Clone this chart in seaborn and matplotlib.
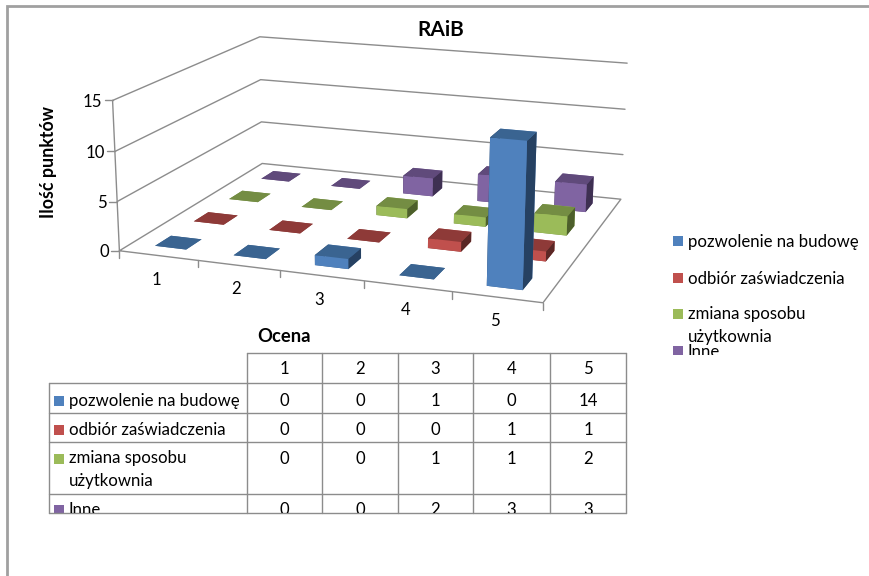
import numpy as np
import pandas as pd
import seaborn as sns
import matplotlib
matplotlib.use("Agg")
import matplotlib.pyplot as plt
from matplotlib.patches import Rectangle
from matplotlib.transforms import Bbox, TransformedBbox
from mpl_toolkits.mplot3d import Axes3D, proj3d

categories = ["1", "2", "3", "4", "5"]
series_names = ["pozwolenie na budowę", "odbiór zaświadczenia", "zmiana sposobu\nużytkownia", "Inne"]
pozwolenie = [0, 0, 1, 0, 14]
odbior = [0, 0, 0, 1, 1]
zmiana = [0, 0, 1, 1, 2]
inne = [0, 0, 2, 3, 3]
value_ticks = [0, 5, 10, 15]

front_colors = ["#4F81BD", "#C0504D", "#9BBB59", "#8064A2"]
top_colors = ["#3A6491", "#8E3A38", "#748D43", "#604A7B"]
side_colors = ["#264162", "#5A2725", "#4D5F2B", "#3E3052"]
line_color = "#8C8C8C"
frame_color = "#A0A0A0"

W, H = 870, 576

sns.set_theme(style="white")
plt.rcParams["font.family"] = ["Lato", "DejaVu Sans"]

table = pd.DataFrame([pozwolenie, odbior, zmiana, inne], index=series_names, columns=categories)

# Camera calibration: box corners in axis units -> figure pixels.
camera_world = np.array([
    (0, 0, 0), (0, 0, 5), (0, 0, 10), (0, 0, 15),
    (0, 4, 0), (0, 4, 5), (0, 4, 10), (0, 4, 15),
    (5, 4, 0), (5, 4, 5), (5, 4, 10), (5, 4, 15),
    (5, 0, 0),
], float)
camera_pixels = np.array([
    (120, 250), (117, 202), (114, 152), (113, 100),
    (262, 164), (261, 122), (261, 79), (260, 37),
    (621, 199), (623, 154), (625, 110), (627, 63),
    (543, 303),
], float)


def fit_camera(world, pixels):
    rows = []
    for (x, y, z), (u, v) in zip(world, pixels):
        rows.append([x, y, z, 1, 0, 0, 0, 0, -u * x, -u * y, -u * z, -u])
        rows.append([0, 0, 0, 0, x, y, z, 1, -v * x, -v * y, -v * z, -v])
    p = np.linalg.svd(np.array(rows))[2][-1].reshape(3, 4)
    p /= p[2] @ np.array([0, 0, 0, 1.0])
    # The third row keeps a depth value that grows away from the viewer.
    return np.vstack([p[0], p[1], p[2] - np.array([0, 0, 0, 0.5]), p[2]])


class BoxAxes3D(Axes3D):
    """3D axes whose projection comes from a fixed camera matrix, in pixels."""
    camera = fit_camera(camera_world, camera_pixels)

    def get_proj(self):
        return self.camera

    def apply_aspect(self, position=None):
        pass


def to_pixels(x, y, z):
    u, v, _ = proj3d.proj_transform(x, y, z, BoxAxes3D.camera)
    return float(u), float(v)


def pixel_axes():
    flat = fig.add_axes([0, 0, 1, 1], facecolor="none")
    flat.set_xlim(0, W)
    flat.set_ylim(H, 0)
    flat.axis("off")
    return flat


fig = plt.figure(figsize=(W / 100, H / 100), dpi=100, facecolor="white")

# Floor outline and wall gridlines sit under the bars
n_cat, n_ser = len(categories), len(series_names)
under = pixel_axes()
LINE = dict(color=line_color, lw=1.0)


def box_line(corners):
    px = [to_pixels(*c) for c in corners]
    under.plot([p[0] for p in px], [p[1] for p in px], **LINE)


box_line([(0, 0, 0), (n_cat, 0, 0), (n_cat, n_ser, 0), (0, n_ser, 0), (0, 0, 0)])
for v in value_ticks[1:]:
    box_line([(0, 0, v), (0, n_ser, v), (n_cat, n_ser, v)])
box_line([(0, 0, 0), (0, 0, max(value_ticks))])

ax = fig.add_axes(BoxAxes3D(fig, [0, 0, 1, 1], computed_zorder=False))
ax.set_axis_off()
ax.patch.set_visible(False)
ax.viewLim.intervalx = (0, W)
ax.viewLim.intervaly = (H, 0)

# Bars, farthest series first and left to right within a series
band, gap = 0.4, 0.3
z_order = 2
for s in reversed(range(n_ser)):
    for c in range(n_cat):
        face = [top_colors[s], top_colors[s], front_colors[s], front_colors[s], side_colors[s], side_colors[s]]
        ax.bar3d(c + gap, s + gap, 0, band, band, table.iloc[s, c], color=face,
                 shade=False, edgecolor="none", linewidth=0, zorder=z_order)
        z_order += 1

# Flat overlay in pixel coordinates for ticks, labels, data table and legend
ov = pixel_axes()

TXT = dict(color="black", fontsize=12.1)

# Frame of the chart area
ov.plot([7, 7, W], [H, 5.5, 5.5], color=frame_color, lw=2.0, solid_joinstyle="miter")

for v in value_ticks:
    u0, v0 = to_pixels(0, 0, v)
    ov.plot([u0 - 8, u0], [v0, v0], **LINE)
    ov.text(u0 - 10, v0 + 1.5, str(v), ha="right", va="center", **TXT)

for i in range(n_cat + 1):
    u0, v0 = to_pixels(i, 0, 0)
    ov.plot([u0, u0], [v0, v0 + 7], **LINE)
for i, label in enumerate(categories):
    u0, v0 = to_pixels(i + 0.5, 0, 0)
    ov.text(u0 - 2, v0 + 24, label, ha="center", va="center", **TXT)

BOLD = dict(color="black", fontweight="bold", fontsize=13.2)
ov.text(441, 30, "RAiB", ha="center", va="center", **{**BOLD, "fontsize": 15})
ov.text(284, 337, "Ocena", ha="center", va="center", **BOLD)
ov.text(48.5, 161.5, "Ilość punktów", rotation=90, ha="center", va="center", **{**BOLD, "fontsize": 12.8})

# Data table
col_edges = [247, 322, 398, 473, 550, 626]
row_edges = [353, 383, 413, 442, 494, 513]
name_left = 49
first_line = [401, 430, 459, 510]
table_clip = TransformedBbox(Bbox([[0, 0], [W, 513]]), ov.transData)

ov.plot([col_edges[0], col_edges[-1]], [row_edges[0]] * 2, **LINE)
for y in row_edges[1:]:
    ov.plot([name_left, col_edges[-1]], [y, y], **LINE)
ov.plot([name_left, name_left], [row_edges[1], row_edges[-1]], **LINE)
for x in col_edges:
    ov.plot([x, x], [row_edges[0], row_edges[-1]], **LINE)

for c, label in enumerate(categories):
    x = (col_edges[c] + col_edges[c + 1]) / 2
    ov.text(x, 368.5, label, ha="center", va="center", **TXT)
    for s in range(n_ser):
        t = ov.text(x, first_line[s], str(table.iloc[s, c]), ha="center", va="center", **TXT)
        t.set_clip_box(table_clip)
        t.set_clip_on(True)

for s, name in enumerate(series_names):
    swatch = Rectangle((54, first_line[s] - 5.5), 10, 10, color=front_colors[s], lw=0)
    ov.add_patch(swatch)
    swatch.set_clip_box(table_clip)
    t = ov.text(69, first_line[s], name, ha="left", va="center", linespacing=1.55, **TXT)
    if "\n" in name:
        t.set_va("top")
        t.set_y(first_line[s] - 9)
    t.set_clip_box(table_clip)
    t.set_clip_on(True)

# Legend, cut off at the bottom of its box
legend_y = [242, 279, 315, 352]
legend_clip = TransformedBbox(Bbox([[0, 0], [W, 355]]), ov.transData)
for s, name in enumerate(series_names):
    swatch = Rectangle((673, legend_y[s] - 6), 10, 10, color=front_colors[s], lw=0)
    ov.add_patch(swatch)
    swatch.set_clip_box(legend_clip)
    t = ov.text(688, legend_y[s], name, ha="left", va="center", linespacing=1.55, **TXT)
    if "\n" in name:
        t.set_va("top")
        t.set_y(legend_y[s] - 9)
    t.set_clip_box(legend_clip)
    t.set_clip_on(True)

fig.savefig("out.png", dpi=100, facecolor="white")
